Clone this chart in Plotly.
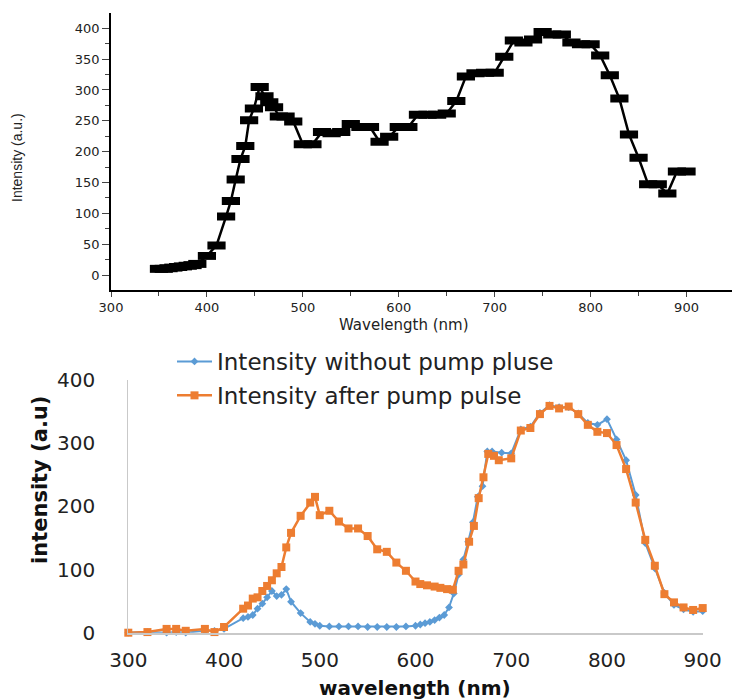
import plotly.graph_objects as go

# ---- top chart data ----
top_wl = [350, 355, 360, 365, 370, 375, 380, 385, 390, 400, 410, 420, 425, 430, 435, 440, 444,
          449, 455, 460, 465, 470, 475, 482, 490, 500, 510, 520, 530, 540, 550, 560, 570, 580,
          590, 600, 610, 620, 630, 640, 650, 660, 670, 680, 690, 700, 710, 720, 730, 740, 750,
          760, 770, 780, 790, 800, 810, 820, 830, 840, 850, 860, 870, 880, 890, 900]
top_int = [10, 10, 11, 12, 13, 14, 15, 16, 18, 31, 48, 95, 120, 155, 188, 209, 251,
           270, 305, 290, 280, 272, 257, 257, 249, 212, 212, 232, 230, 232, 245, 240, 240, 216,
           224, 240, 240, 260, 260, 260, 262, 282, 322, 327, 328, 328, 354, 380, 377, 382, 394,
           390, 390, 377, 374, 374, 356, 324, 286, 228, 190, 147, 147, 132, 168, 168]

# ---- bottom chart data ----
blue_wl = [300, 320, 340, 350, 360, 380, 390, 400, 420, 425, 430, 435, 440, 445, 450, 455, 460,
           465, 470, 480, 490, 495, 500, 510, 520, 530, 540, 550, 560, 570, 580, 590, 600, 605,
           610, 615, 620, 625, 630, 635, 640, 645, 650, 655, 660, 665, 670, 675, 680, 690, 700,
           710, 720, 730, 740, 750, 760, 770, 780, 790, 800, 810, 820, 830, 840, 850, 860, 870,
           880, 890, 900]
blue_int = [0, 1, 0, 1, 0, 3, 3, 6, 23, 25, 28, 38, 46, 56, 66, 58, 60,
            69, 49, 31, 17, 14, 11, 10, 10, 10, 10, 9, 9, 9, 9, 10, 11, 13,
            15, 17, 20, 24, 28, 40, 62, 92, 116, 144, 175, 215, 232, 287, 287, 285, 284,
            322, 326, 348, 360, 357, 357, 347, 332, 329, 338, 306, 273, 218, 142, 102, 63, 44,
            37, 33, 34]

orange_wl = [300, 320, 340, 350, 360, 380, 390, 400, 420, 425, 430, 435, 440, 445, 450, 455, 460,
             465, 470, 480, 490, 495, 500, 510, 520, 530, 540, 550, 560, 570, 580, 590, 600, 605,
             612, 620, 626, 633, 639, 645, 650, 656, 661, 666, 671, 676, 682, 687, 700, 710, 720,
             730, 740, 750, 760, 770, 780, 790, 800, 810, 820, 830, 840, 850, 860, 870, 880, 890,
             900]
orange_int = [0, 1, 6, 6, 3, 6, 1, 9, 38, 43, 54, 56, 66, 74, 83, 94, 104,
              135, 158, 185, 206, 215, 186, 193, 176, 165, 165, 153, 132, 128, 111, 98, 81, 77,
              75, 73, 71, 69, 68, 98, 108, 144, 169, 213, 246, 283, 280, 273, 276, 320, 324,
              346, 359, 355, 358, 346, 329, 318, 316, 297, 259, 206, 147, 106, 61, 48, 40, 36,
              39]

x_ticks = [300, 400, 500, 600, 700, 800, 900]
top_y_ticks = [0, 50, 100, 150, 200, 250, 300, 350, 400]
bot_y_ticks = [0, 100, 200, 300, 400]

W, H = 732, 699

def px(v):
    return v / W

def py(v):
    return 1 - v / H

fig = go.Figure()

fig.add_trace(go.Scatter(
    x=top_wl, y=top_int, mode="lines+markers", xaxis="x", yaxis="y",
    line=dict(color="black", width=2.5),
    marker=dict(symbol="line-ew", size=13, line=dict(color="black", width=8)),
    showlegend=False,
))

fig.add_trace(go.Scatter(
    x=blue_wl, y=blue_int, mode="lines+markers", xaxis="x2", yaxis="y2",
    name="Intensity without pump pluse", legendgroup="a",
    line=dict(color="#5B9BD5", width=2),
    marker=dict(symbol="diamond", size=6, color="#5B9BD5"),
    cliponaxis=False,
))
fig.add_trace(go.Scatter(
    x=orange_wl, y=orange_int, mode="lines+markers", xaxis="x2", yaxis="y2",
    name="Intensity after pump pulse", legendgroup="b",
    line=dict(color="#ED7D31", width=2.5),
    marker=dict(symbol="square", size=8, color="#ED7D31"),
    cliponaxis=False,
))

top_font = dict(family="DejaVu Sans, Liberation Sans, sans-serif", size=13, color="#222")
bot_font = dict(family="DejaVu Sans, sans-serif", size=20, color="#222")

fig.update_layout(
    width=W, height=H,
    margin=dict(l=0, r=0, t=0, b=0, pad=0, autoexpand=False),
    paper_bgcolor="white", plot_bgcolor="white",
    xaxis=dict(
        domain=[px(111), 1.0], anchor="y", range=[300, 947.4], automargin=False,
        tickmode="array", tickvals=x_ticks, ticks="outside", ticklen=5, tickwidth=1.3,
        minor=dict(dtick=50, tick0=300, ticks="outside", ticklen=4, tickwidth=1.3),
        showline=True, linecolor="black", linewidth=1.5, showgrid=False, zeroline=False,
        tickfont=top_font,
    ),
    yaxis=dict(
        domain=[py(290), py(13.3)], anchor="x", range=[-24.3, 424.3], automargin=False,
        tickmode="array", tickvals=top_y_ticks, ticks="outside", ticklen=7, tickwidth=1.3,
        minor=dict(dtick=25, tick0=0, ticks="outside", ticklen=4, tickwidth=1.3),
        showline=True, linecolor="black", linewidth=1.5, showgrid=False, zeroline=False,
        tickfont=top_font,
    ),
    xaxis2=dict(
        domain=[px(128.3), px(702.7)], anchor="y2", range=[300, 900], automargin=False,
        tickmode="array", tickvals=x_ticks, ticks="", ticklabelstandoff=9,
        showline=True, linecolor="#c9c9c9", linewidth=1.5, showgrid=False, zeroline=False,
        tickfont=bot_font,
    ),
    yaxis2=dict(
        domain=[py(632.7), py(380)], anchor="x2", range=[0, 400], automargin=False,
        tickmode="array", tickvals=bot_y_ticks, ticks="", ticklabelstandoff=28,
        showline=True, linecolor="#c9c9c9", linewidth=1.2, showgrid=False, zeroline=False,
        tickfont=bot_font,
    ),
    legend=dict(
        x=px(172), y=py(340), xanchor="left", yanchor="top",
        font=dict(family="DejaVu Sans, sans-serif", size=23, color="#222"),
        bgcolor="rgba(0,0,0,0)", itemwidth=35, tracegroupgap=1, traceorder="grouped",
    ),
    annotations=[
        dict(text="Intensity (a.u.)", x=px(17), y=py(158), xref="paper", yref="paper",
             showarrow=False, textangle=-90, xanchor="center", yanchor="middle",
             font=dict(family="Liberation Sans Narrow, Liberation Sans, sans-serif", size=14, color="#222")),
        dict(text="Wavelength (nm)", x=px(404), y=py(325), xref="paper", yref="paper",
             showarrow=False, xanchor="center", yanchor="middle",
             font=dict(family="DejaVu Sans, sans-serif", size=15, color="#222")),
        dict(text="<b>wavelength (nm)</b>", x=px(415), y=py(687.5), xref="paper", yref="paper",
             showarrow=False, xanchor="center", yanchor="middle",
             font=dict(family="DejaVu Sans, sans-serif", size=20, color="#111")),
        dict(text="<b>intensity (a.u)</b>", x=px(40), y=py(480), xref="paper", yref="paper",
             showarrow=False, textangle=-90, xanchor="center", yanchor="middle",
             font=dict(family="DejaVu Sans, sans-serif", size=21, color="#111")),
    ],
)

fig.write_html("out.html")
